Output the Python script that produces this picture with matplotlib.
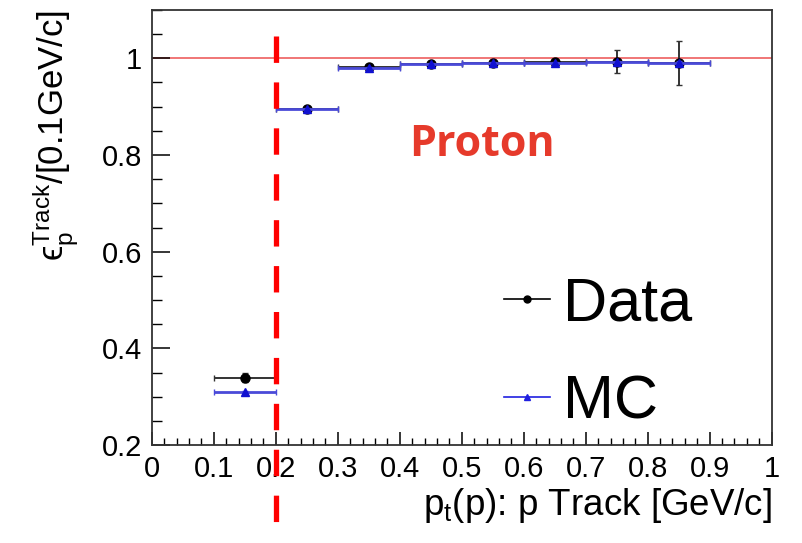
import numpy as np
import matplotlib
matplotlib.use("Agg")
import matplotlib.pyplot as plt
from matplotlib.lines import Line2D
from matplotlib.ticker import MultipleLocator, FuncFormatter

# --------------------------------------------------------------------
plt.rcParams['font.family'] = ['Liberation Sans', 'DejaVu Sans']
plt.rcParams['mathtext.fontset'] = 'custom'
plt.rcParams['mathtext.rm'] = 'Liberation Sans'
plt.rcParams['mathtext.it'] = 'Liberation Sans:italic'
FONTSIZE = 21

# bins in pt (GeV/c)
bin_lo = np.array([0.1, 0.2, 0.3, 0.4, 0.5, 0.6, 0.7, 0.8])
bin_hi = np.array([0.2, 0.3, 0.4, 0.5, 0.6, 0.7, 0.8, 0.9])
data_eff = np.array([0.340, 0.895, 0.981, 0.987, 0.991, 0.992, 0.993, 0.990])
data_err = np.array([0.010, 0.004, 0.003, 0.003, 0.003, 0.005, 0.023, 0.046])
mc_eff = np.array([0.310, 0.895, 0.980, 0.987, 0.990, 0.991, 0.992, 0.990])
mc_err = np.array([0.003, 0.002, 0.002, 0.002, 0.002, 0.002, 0.003, 0.004])
cut_pt = 0.2
# --------------------------------------------------------------------
centers = 0.5 * (bin_lo + bin_hi)
half = 0.5 * (bin_hi - bin_lo)

fig = plt.figure(figsize=(8.03, 5.43), dpi=100)
ax = fig.add_axes([0.189, 0.180, 0.772, 0.802])

ax.axhline(1.0, color='#ef6b6b', linewidth=1.3, zorder=1)

ax.errorbar(centers, data_eff, xerr=half, yerr=data_err, fmt='o', color='black',
            ecolor='#333333', markersize=6.5, elinewidth=1.4, capsize=2, zorder=3)
ax.errorbar(centers, mc_eff, xerr=half, yerr=mc_err, fmt='^', color='#1010d0',
            ecolor='#4a4ad8', markersize=6, elinewidth=2.0, capsize=2, zorder=4)

# red dashed cut line, runs past the frame
ax.plot([cut_pt, cut_pt], [1.045, 0.03], color='red', linewidth=3.8,
        dashes=(5.0, 3.7), clip_on=False, zorder=5)

ax.text(0.532, 0.822, 'Proton', color='#e63a2b', fontsize=31, fontweight='bold',
        family='Open Sans', ha='center', va='center')

ax.set_xlim(0, 1)
ax.set_ylim(0.2, 1.1)
ax.xaxis.set_major_locator(MultipleLocator(0.1))
ax.xaxis.set_minor_locator(MultipleLocator(0.02))
ax.yaxis.set_major_locator(MultipleLocator(0.2))
ax.yaxis.set_minor_locator(MultipleLocator(0.05))
fmt = FuncFormatter(lambda v, p: ('%g' % round(v, 3)))
ax.xaxis.set_major_formatter(fmt)
ax.yaxis.set_major_formatter(fmt)
ax.tick_params(axis='x', which='major', direction='in', length=9.5, width=1.1,
               labelsize=FONTSIZE, pad=7, top=False)
ax.tick_params(axis='x', which='minor', direction='in', length=5, width=1.0, top=False)
ax.tick_params(axis='y', which='major', direction='in', length=13, width=1.1,
               labelsize=FONTSIZE, pad=7, right=False)
ax.tick_params(axis='y', which='minor', direction='in', length=7, width=1.0, right=False)
for s in ax.spines.values():
    s.set_linewidth(1.3)
    s.set_color('#333333')

ax.set_xlabel(r'p$_{\rm t}$(p): p Track [GeV/c]', fontsize=26.5, loc='right', labelpad=2)
ax.set_ylabel('ϵ$_{\\rm p}^{\\rm Track}$/[0.1GeV/c]', fontsize=25, loc='top', labelpad=15)

handles = [Line2D([], [], color='black', marker='o', markersize=5, linewidth=1.2),
           Line2D([], [], color='#2020e0', marker='^', markersize=5, linewidth=1.2)]
ax.legend(handles, ['Data', 'MC'], loc='center left', bbox_to_anchor=(0.569, 0.21),
          fontsize=44, frameon=False, handlelength=0.75, handletextpad=0.2,
          labelspacing=0.68, borderpad=0, borderaxespad=0)

fig.savefig('out.png', dpi=100)
